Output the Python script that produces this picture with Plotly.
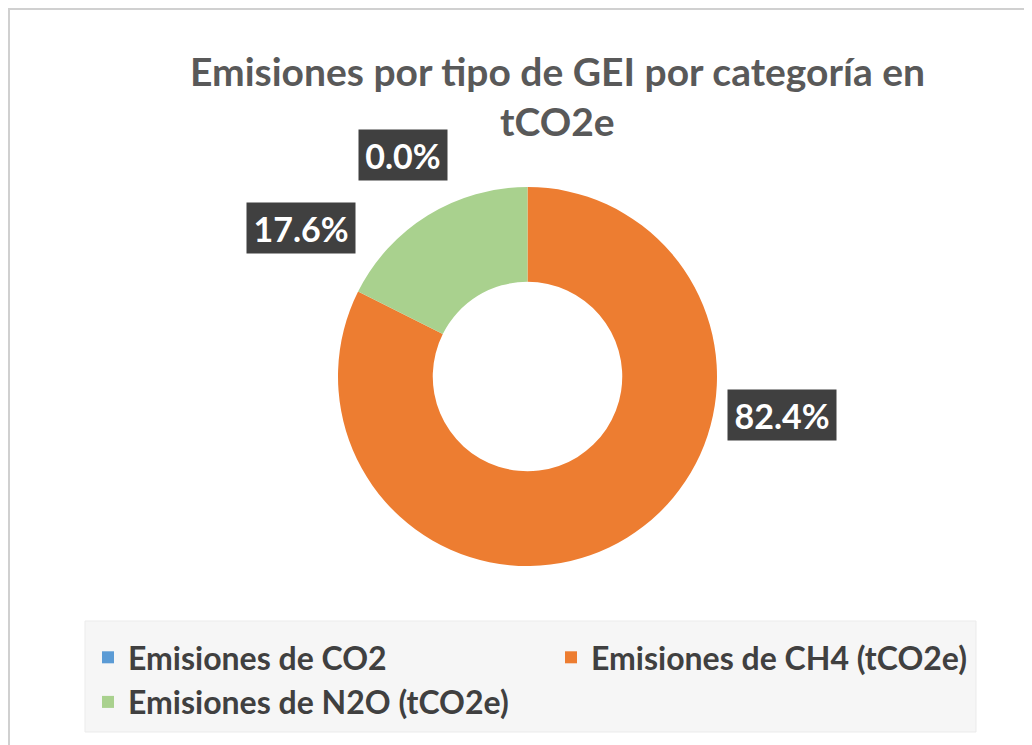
import plotly.graph_objects as go

# The page body has an 8 px margin, so the figure is drawn 8 px in from the
# top-left corner; all screen positions below are converted with that offset.
OFF = 8
W, H = 1032 - OFF, 745 - OFF

# ---- data ----
categories = ["Emisiones de CO2", "Emisiones de CH4 (tCO2e)", "Emisiones de N2O (tCO2e)"]
shares = [0.0, 82.4, 17.6]
colors = ["#5B9BD5", "#ED7D31", "#A9D18E"]
title_lines = ["Emisiones por tipo de GEI por categoría en", "tCO2e"]


def px(x):
    return (x - OFF) / W


def py(y):
    return 1 - (y - OFF) / H


FONT = "Lato, 'Open Sans', sans-serif"

fig = go.Figure()
fig.add_trace(go.Pie(
    labels=categories,
    values=shares,
    hole=0.5,
    sort=False,
    direction="clockwise",
    rotation=0,
    marker=dict(colors=colors, line=dict(width=0)),
    textinfo="none",
    hoverinfo="label+percent",
    domain=dict(x=[px(338), px(717)], y=[py(566), py(187)]),
    showlegend=True,
))

# data label boxes
total = sum(shares)
label_pos = [(403, 155), (782, 415), (301, 228)]
label_w = [80, 100, 100]
annotations = []
for v, (lx, ly), w in zip(shares, label_pos, label_w):
    annotations.append(dict(
        x=px(lx), y=py(ly), xref="paper", yref="paper",
        text=f"{v / total * 100:.1f}%", showarrow=False,
        font=dict(family=FONT, size=34, color="white", weight="bold"),
        bgcolor="#404040", borderpad=4, width=w, height=42,
        xanchor="center", yanchor="middle",
    ))

# title (two lines)
for txt, ty in zip(title_lines, [71, 121]):
    annotations.append(dict(
        x=px(557), y=py(ty), xref="paper", yref="paper",
        text=txt, showarrow=False,
        font=dict(family=FONT, size=39, color="#595959", weight="bold"),
        xanchor="center", yanchor="middle",
    ))

shapes = [
    # chart border
    dict(type="rect", xref="paper", yref="paper",
         x0=px(9), x1=px(1060), y0=py(780), y1=py(9),
         line=dict(color="#D0D0D0", width=2), fillcolor="rgba(0,0,0,0)", layer="below"),
    # legend background
    dict(type="rect", xref="paper", yref="paper",
         x0=px(85), x1=px(976), y0=py(732), y1=py(621),
         line=dict(color="#EBEBEB", width=1), fillcolor="#F6F6F6", layer="below"),
]

fig.update_layout(
    width=W, height=H,
    margin=dict(l=0, r=0, t=0, b=0),
    paper_bgcolor="white",
    plot_bgcolor="white",
    annotations=annotations,
    shapes=shapes,
    legend=dict(
        orientation="h",
        x=px(88), y=py(630), xanchor="left", yanchor="top",
        bgcolor="rgba(0,0,0,0)",
        font=dict(family=FONT, size=32, color="#404040", weight="bold"),
        entrywidth=418, entrywidthmode="pixels",
        traceorder="normal",
        itemwidth=30,
    ),
)

fig.write_html("out.html")
